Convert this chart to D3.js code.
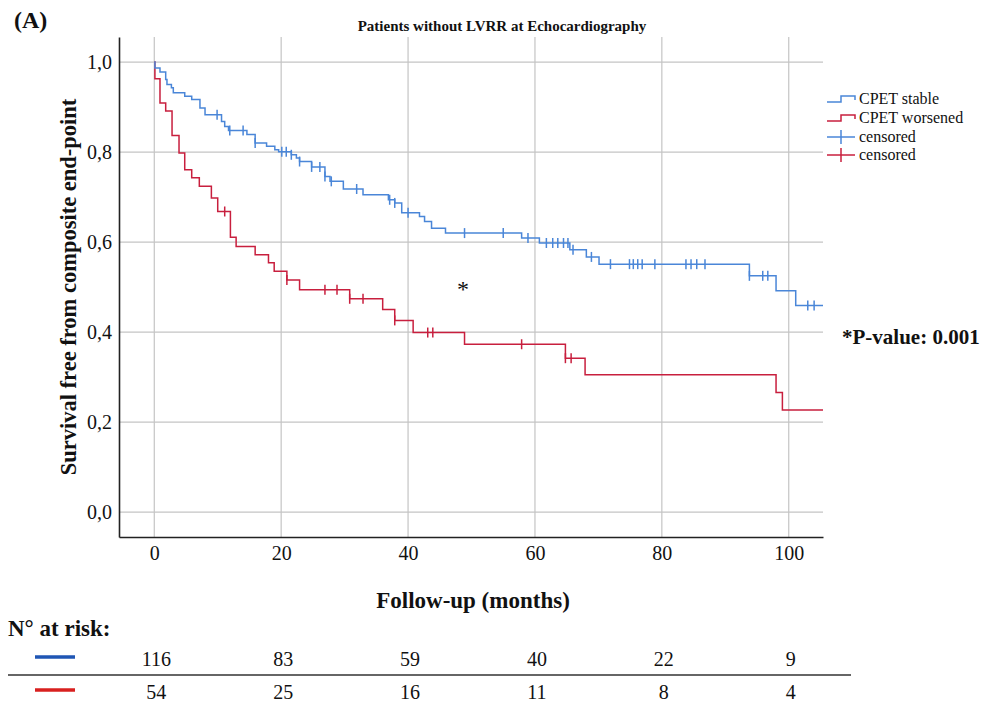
<!DOCTYPE html>
<html><head><meta charset="utf-8">
<script src="https://cdn.jsdelivr.net/npm/d3@7"></script>
<style>
html,body{margin:0;padding:0;background:#fff;}
svg{display:block;}
text{font-family:"Liberation Serif","Times New Roman",serif;fill:#111;}
</style></head>
<body><svg id="c" width="994" height="704"></svg>
<script>
// ---- data ----
const xTicks = [0, 20, 40, 60, 80, 100];
const yTicks = [0, 0.2, 0.4, 0.6, 0.8, 1.0];
const seriesNames = ["CPET stable", "CPET worsened"];
// [month, survival after step]
const stableSteps = [[0.1,0.987],[0.9,0.978],[1.8,0.961],[2.0,0.95],[2.7,0.943],[3.0,0.932],[4.8,0.924],[5.9,0.917],[7.2,0.898],[8.0,0.883],[10.6,0.868],[11.1,0.857],[11.7,0.848],[14.6,0.839],[15.9,0.82],[17.7,0.813],[19.0,0.805],[19.6,0.801],[21.6,0.794],[22.4,0.787],[22.9,0.779],[24.8,0.767],[26.9,0.746],[27.7,0.735],[29.8,0.718],[32.9,0.705],[36.9,0.694],[37.9,0.687],[39.0,0.665],[41.8,0.657],[42.6,0.646],[43.7,0.631],[45.9,0.62],[57.9,0.609],[60.7,0.598],[65.5,0.583],[68.1,0.567],[70.1,0.551],[93.8,0.525],[98.0,0.492],[101.1,0.459]];
const stableCensored = [9.9,11.9,14.0,15.9,20.1,20.8,21.6,22.9,24.8,26.1,26.9,27.9,31.9,37.1,37.9,40.0,48.9,55.0,58.9,61.8,62.8,63.6,64.5,65.2,66.0,68.9,71.9,74.9,75.5,76.2,76.9,78.9,83.8,84.6,85.5,86.8,93.8,95.9,96.7,103.0,104.0];
const worsenedSteps = [[0.1,0.963],[0.9,0.909],[1.8,0.891],[2.8,0.837],[3.9,0.798],[4.8,0.761],[5.9,0.743],[7.1,0.724],[9.0,0.698],[10.0,0.668],[12.0,0.611],[12.9,0.59],[15.9,0.572],[18.0,0.554],[18.9,0.535],[20.9,0.516],[22.9,0.494],[30.8,0.474],[36.0,0.45],[37.9,0.426],[40.8,0.399],[48.9,0.373],[64.8,0.342],[67.9,0.305],[98.0,0.266],[99.0,0.227]];
const worsenedCensored = [11.1,20.9,26.9,28.8,30.8,32.9,37.9,43.1,43.9,57.9,64.8,65.7];
const followEnd = [105.4, 105.4];
const atRiskStable = [116, 83, 59, 40, 22, 9];
const atRiskWorsened = [54, 25, 16, 11, 8, 4];
const pValueText = "*P-value: 0.001";

// ---- styles ----
const colLine = ["#4a86d8", "#c81f3e"];
const colRisk = ["#1f56b4", "#d8201f"];

const svg = d3.select("#c");
const x = d3.scaleLinear().domain([-5.56, 105.4]).range([119, 823]);
const y = d3.scaleLinear().domain([-0.0553, 1.0557]).range([537, 37]);

// grid
svg.append("g").selectAll("line").data(yTicks).join("line")
  .attr("x1", 119).attr("x2", 823).attr("y1", d => y(d)).attr("y2", d => y(d))
  .attr("stroke", "#c4c4c4").attr("stroke-width", 1.2);
svg.append("g").selectAll("line").data(xTicks).join("line")
  .attr("y1", 37).attr("y2", 537).attr("x1", d => x(d)).attr("x2", d => x(d))
  .attr("stroke", "#c4c4c4").attr("stroke-width", 1.2);

// axes
const xAxis = d3.axisBottom(x).tickValues(xTicks).tickSize(0).tickPadding(9).tickFormat(d3.format("d"));
const gx = svg.append("g").attr("transform", "translate(0,537)").call(xAxis);
gx.select(".domain").attr("stroke", "#222").attr("stroke-width", 1.6);
gx.selectAll("text").style("font-size", "20px").style("font-family", "Liberation Serif").attr("fill", "#111");

const yAxis = d3.axisLeft(y).tickValues(yTicks).tickSize(0).tickPadding(7).tickFormat(d => d3.format(".1f")(d).replace(".", ","));
const gy = svg.append("g").attr("transform", "translate(119,0)").call(yAxis);
gy.select(".domain").attr("stroke", "#222").attr("stroke-width", 1.6);
gy.selectAll("text").style("font-size", "20px").style("font-family", "Liberation Serif").attr("fill", "#111");

// curves
function stepFn(steps, t) { let v = 1; for (const s of steps) { if (s[0] <= t) v = s[1]; } return v; }
const allSteps = [stableSteps, worsenedSteps];
const allCens = [stableCensored, worsenedCensored];
const line = d3.line().x(d => x(d[0])).y(d => y(d[1])).curve(d3.curveStepAfter);
[1, 0].forEach(i => {
  const st = allSteps[i];
  const pts = [[0, 1], ...st, [followEnd[i], st[st.length - 1][1]]];
  svg.append("path").attr("d", line(pts)).attr("fill", "none")
    .attr("stroke", colLine[i]).attr("stroke-width", 1.5);
  svg.append("g").selectAll("line").data(allCens[i]).join("line")
    .attr("x1", d => x(d)).attr("x2", d => x(d))
    .attr("y1", d => y(stepFn(st, d)) - 5).attr("y2", d => y(stepFn(st, d)) + 5)
    .attr("stroke", colLine[i]).attr("stroke-width", 1.5);
});

// legend
const legY = [99, 118, 137, 155];
const lx = 827;
[0, 1].forEach(i => {
  const yy = legY[i];
  svg.append("path").attr("d", `M${lx},${yy + 3}H${lx + 14}V${yy - 3}H${lx + 28}V${yy + 1}`)
    .attr("fill", "none").attr("stroke", colLine[i]).attr("stroke-width", 1.5);
  svg.append("text").attr("x", lx + 32).attr("y", yy + 5).style("font-size", "16px").text(seriesNames[i]);
  const yc = legY[i + 2];
  svg.append("line").attr("x1", lx).attr("x2", lx + 28).attr("y1", yc).attr("y2", yc).attr("stroke", colLine[i]).attr("stroke-width", 1.5);
  svg.append("line").attr("x1", lx + 14).attr("x2", lx + 14).attr("y1", yc - 7).attr("y2", yc + 7).attr("stroke", colLine[i]).attr("stroke-width", 1.5);
  svg.append("text").attr("x", lx + 32).attr("y", yc + 5).style("font-size", "16px").text("censored");
});

// titles
svg.append("text").attr("x", 14).attr("y", 28).style("font-size", "24px").style("font-weight", "bold").text("(A)");
svg.append("text").attr("x", 502).attr("y", 31).attr("text-anchor", "middle").style("font-size", "15px").style("font-weight", "bold")
  .text("Patients without LVRR at Echocardiography");
svg.append("text").attr("transform", "translate(76,287) rotate(-90)").attr("text-anchor", "middle")
  .style("font-size", "22.5px").style("font-weight", "bold").text("Survival free from composite end-point");
svg.append("text").attr("x", 473).attr("y", 608).attr("text-anchor", "middle")
  .style("font-size", "23px").style("font-weight", "bold").text("Follow-up (months)");
svg.append("text").attr("x", 463).attr("y", 297).attr("text-anchor", "middle").style("font-size", "24px").text("*");
svg.append("text").attr("x", 842).attr("y", 344).style("font-size", "21px").style("font-weight", "bold").text(pValueText);

// at-risk table
svg.append("text").attr("x", 8).attr("y", 636).style("font-size", "23px").style("font-weight", "bold").text("N° at risk:");
const riskRows = [atRiskStable, atRiskWorsened];
const rowY = [659, 692];
riskRows.forEach((row, i) => {
  svg.append("line").attr("x1", 35).attr("x2", 75).attr("y1", rowY[i] - 2).attr("y2", rowY[i] - 2)
    .attr("stroke", colRisk[i]).attr("stroke-width", 3.5);
  svg.append("g").selectAll("text").data(row).join("text")
    .attr("x", (d, j) => x(xTicks[j]) + 2).attr("y", rowY[i] + 7).attr("text-anchor", "middle")
    .style("font-size", "20px").text(d => d);
});
svg.append("line").attr("x1", 8).attr("x2", 851).attr("y1", 675).attr("y2", 675).attr("stroke", "#333").attr("stroke-width", 1.3);
</script></body></html>
